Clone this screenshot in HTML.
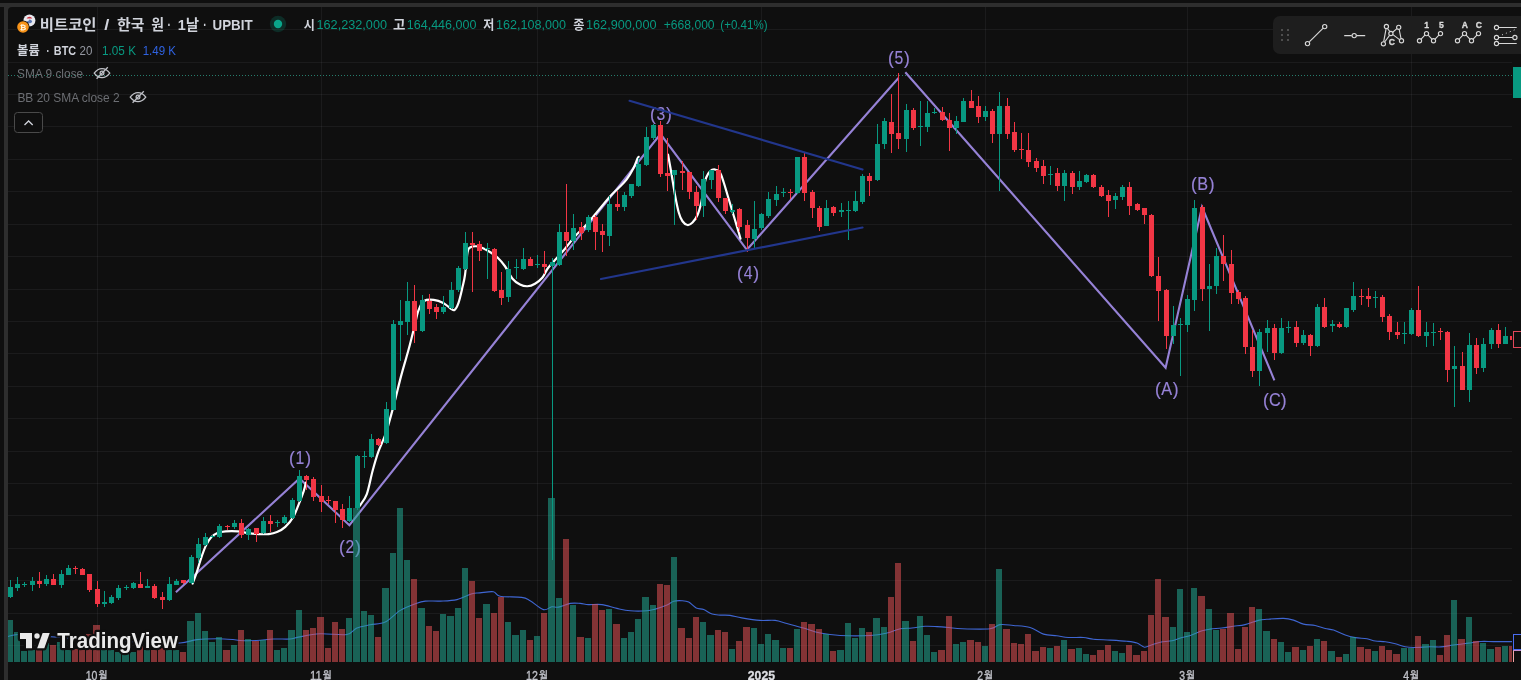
<!DOCTYPE html>
<html lang="ko"><head><meta charset="utf-8"><title>비트코인 / 한국 원</title>
<style>
html,body{margin:0;padding:0;background:#0f0f0f;}
body{width:1521px;height:680px;position:relative;overflow:hidden;font-family:"Liberation Sans","Noto Sans CJK KR",sans-serif;color:#d1d4dc;}
.abs{position:absolute;white-space:nowrap;line-height:1;}
</style></head><body>
<div class="abs" style="left:4px;top:3px;width:1530px;height:690px;background:#2e2e2e"></div>
<div class="abs" style="left:0;top:3px;width:4px;height:4px;background:#2e2e2e"></div>
<div class="abs" style="left:8px;top:7px;width:1530px;height:690px;background:#0f0f0f;border-top-left-radius:4px"></div>
<svg width="1521" height="680" viewBox="0 0 1521 680" style="position:absolute;left:0;top:0">
<defs><clipPath id="pane"><rect x="8" y="7" width="1504" height="673"/></clipPath></defs>
<g stroke="rgba(240,243,250,0.055)" stroke-width="1" shape-rendering="crispEdges">
<line x1="8" x2="1512" y1="29.5" y2="29.5"/>
<line x1="8" x2="1512" y1="62.5" y2="62.5"/>
<line x1="8" x2="1512" y1="94.5" y2="94.5"/>
<line x1="8" x2="1512" y1="126.5" y2="126.5"/>
<line x1="8" x2="1512" y1="159.5" y2="159.5"/>
<line x1="8" x2="1512" y1="191.5" y2="191.5"/>
<line x1="8" x2="1512" y1="224.5" y2="224.5"/>
<line x1="8" x2="1512" y1="256.5" y2="256.5"/>
<line x1="8" x2="1512" y1="289.5" y2="289.5"/>
<line x1="8" x2="1512" y1="321.5" y2="321.5"/>
<line x1="8" x2="1512" y1="353.5" y2="353.5"/>
<line x1="8" x2="1512" y1="386.5" y2="386.5"/>
<line x1="8" x2="1512" y1="418.5" y2="418.5"/>
<line x1="8" x2="1512" y1="451.5" y2="451.5"/>
<line x1="8" x2="1512" y1="483.5" y2="483.5"/>
<line x1="8" x2="1512" y1="515.5" y2="515.5"/>
<line x1="8" x2="1512" y1="548.5" y2="548.5"/>
<line x1="8" x2="1512" y1="580.5" y2="580.5"/>
<line x1="8" x2="1512" y1="613.5" y2="613.5"/>
<line x1="8" x2="1512" y1="645.5" y2="645.5"/>
<line x1="97.5" x2="97.5" y1="7" y2="662"/>
<line x1="321.5" x2="321.5" y1="7" y2="662"/>
<line x1="537.5" x2="537.5" y1="7" y2="662"/>
<line x1="761.5" x2="761.5" y1="7" y2="662"/>
<line x1="985.5" x2="985.5" y1="7" y2="662"/>
<line x1="1187.5" x2="1187.5" y1="7" y2="662"/>
<line x1="1411.5" x2="1411.5" y1="7" y2="662"/>
</g>
<line x1="8" x2="1512" y1="75.5" y2="75.5" stroke="#2fa38c" stroke-opacity="0.75" stroke-width="1" stroke-dasharray="1 2" shape-rendering="crispEdges"/>
<g clip-path="url(#pane)">
<polyline points="175.9,592.2 299.5,478.5 349.4,525.2 660.5,134 746.9,249.8 898.5,78" fill="none" stroke="#9682d6" stroke-width="2.1" stroke-linejoin="miter" stroke-miterlimit="10" stroke-linecap="butt"/>
<polyline points="905.3,72.2 1165.6,367.8 1202,207 1274.4,380.3" fill="none" stroke="#9682d6" stroke-width="2.1" stroke-linejoin="miter" stroke-miterlimit="10" stroke-linecap="butt"/>
<g font-family="Liberation Sans, sans-serif" font-size="17.5" fill="#9682d6" stroke="#9682d6" stroke-width="0.15"><text x="289" y="464.1">(</text><text transform="translate(300 464.1) scale(0.9 1)" text-anchor="middle">1</text><text x="311" y="464.1" text-anchor="end">)</text></g>
<g font-family="Liberation Sans, sans-serif" font-size="17.5" fill="#9682d6" stroke="#9682d6" stroke-width="0.15"><text x="338.9" y="553">(</text><text transform="translate(349.9 553) scale(0.9 1)" text-anchor="middle">2</text><text x="360.9" y="553" text-anchor="end">)</text></g>
<g font-family="Liberation Sans, sans-serif" font-size="17.5" fill="#9682d6" stroke="#9682d6" stroke-width="0.15"><text x="649.9" y="120">(</text><text transform="translate(660.9 120) scale(0.9 1)" text-anchor="middle">3</text><text x="671.9" y="120" text-anchor="end">)</text></g>
<g font-family="Liberation Sans, sans-serif" font-size="17.5" fill="#9682d6" stroke="#9682d6" stroke-width="0.15"><text x="737.1" y="279.1">(</text><text transform="translate(748.1 279.1) scale(0.9 1)" text-anchor="middle">4</text><text x="759.1" y="279.1" text-anchor="end">)</text></g>
<g font-family="Liberation Sans, sans-serif" font-size="17.5" fill="#9682d6" stroke="#9682d6" stroke-width="0.15"><text x="887.9" y="64">(</text><text transform="translate(898.9 64) scale(0.9 1)" text-anchor="middle">5</text><text x="909.9" y="64" text-anchor="end">)</text></g>
<g font-family="Liberation Sans, sans-serif" font-size="17.5" fill="#9682d6" stroke="#9682d6" stroke-width="0.15"><text x="1154.9" y="395.1">(</text><text transform="translate(1166.7 395.1) scale(0.93 1)" text-anchor="middle">A</text><text x="1178.5" y="395.1" text-anchor="end">)</text></g>
<g font-family="Liberation Sans, sans-serif" font-size="17.5" fill="#9682d6" stroke="#9682d6" stroke-width="0.15"><text x="1190.9" y="189.6">(</text><text transform="translate(1202.7 189.6) scale(0.93 1)" text-anchor="middle">B</text><text x="1214.5" y="189.6" text-anchor="end">)</text></g>
<g font-family="Liberation Sans, sans-serif" font-size="17.5" fill="#9682d6" stroke="#9682d6" stroke-width="0.15"><text x="1263.1" y="406">(</text><text transform="translate(1274.9 406) scale(0.93 1)" text-anchor="middle">C</text><text x="1286.7" y="406" text-anchor="end">)</text></g>
<path d="M192.6 583.5C193.3 581.62 195.42 576.32 196.8 572.2C198.18 568.08 199.37 563.27 200.9 558.8C202.43 554.33 204.28 549 206 545.4C207.72 541.8 209.3 539.25 211.2 537.2C213.1 535.15 215 534.07 217.4 533.1C219.8 532.13 222.17 531.68 225.6 531.4C229.03 531.12 234.23 531.12 238 531.4C241.77 531.68 244.78 532.65 248.2 533.1C251.62 533.55 255.07 533.93 258.5 534.1C261.93 534.27 265.72 534.43 268.8 534.1C271.88 533.77 274.25 533.3 277 532.1C279.75 530.9 282.55 529.48 285.3 526.9C288.05 524.32 291.27 520.37 293.5 516.6C295.73 512.83 296.98 508.58 298.7 504.3C300.42 500.02 302.6 494.52 303.8 490.9C305 487.28 305.55 483.98 305.9 482.6" fill="none" stroke="#ffffff" stroke-width="2.2" stroke-linejoin="round" stroke-linecap="round"/>
<path d="M359.9 505.6C361.05 503.68 364.7 499.83 366.8 494.1C368.9 488.37 370.6 478.2 372.5 471.2C374.4 464.2 375.97 458.47 378.2 452.1C380.43 445.73 383.35 440.65 385.9 433C388.45 425.35 390.95 415.77 393.5 406.2C396.05 396.63 398.65 385.17 401.2 375.6C403.75 366.03 406.57 357.08 408.8 348.8C411.03 340.52 413 332.27 414.6 325.9C416.2 319.53 416.82 314.75 418.4 310.6C419.98 306.45 421.55 302.78 424.1 301C426.65 299.22 430.5 299.58 433.7 299.9C436.9 300.22 440.43 301.43 443.3 302.9C446.17 304.37 449 307.55 450.9 308.7C452.8 309.85 453.43 310.77 454.7 309.8C455.97 308.83 457.22 306.6 458.5 302.9C459.78 299.2 461.32 292.25 462.4 287.6C463.48 282.95 464.15 280.85 465 275C465.85 269.15 466.67 257.08 467.5 252.5C468.33 247.92 468.54 248.54 470 247.5C471.46 246.46 474.17 246.17 476.25 246.25C478.33 246.33 480.21 247.04 482.5 248C484.79 248.96 487.5 250.42 490 252C492.5 253.58 495 255.12 497.5 257.5C500 259.88 502.5 262.71 505 266.25C507.5 269.79 510 275.71 512.5 278.75C515 281.79 517.5 283.25 520 284.5C522.5 285.75 525 286.38 527.5 286.25C530 286.12 532.5 285.21 535 283.75C537.5 282.29 540.42 280 542.5 277.5C544.58 275 545.42 271.67 547.5 268.75C549.58 265.83 552.08 263.33 555 260C557.92 256.67 561.67 252.71 565 248.75C568.33 244.79 571.67 240 575 236.25C578.33 232.5 581.67 229.88 585 226.25C588.33 222.62 590.83 219.46 595 214.5C599.17 209.54 606.12 200.87 610 196.5C613.88 192.13 615.52 191.15 618.3 188.3C621.08 185.45 624.2 182.7 626.7 179.4C629.2 176.1 631.5 171.98 633.3 168.5C635.1 165.02 636.62 160.45 637.5 158.5C638.38 156.55 638.42 157.08 638.6 156.8" fill="none" stroke="#ffffff" stroke-width="2.2" stroke-linejoin="round" stroke-linecap="round"/>
<path d="M668 154.5C668.54 157.5 670.08 165.75 671.25 172.5C672.42 179.25 673.75 188.33 675 195C676.25 201.67 677.5 208.12 678.75 212.5C680 216.88 681.04 219.17 682.5 221.25C683.96 223.33 685.83 224.79 687.5 225C689.17 225.21 690.83 224.17 692.5 222.5C694.17 220.83 696.04 218.33 697.5 215C698.96 211.67 700.21 207.08 701.25 202.5C702.29 197.92 702.92 191.67 703.75 187.5C704.58 183.33 705.21 180.21 706.25 177.5C707.29 174.79 708.54 172.58 710 171.25C711.46 169.92 713.33 169.29 715 169.5C716.67 169.71 718.54 170.33 720 172.5C721.46 174.67 722.5 178.75 723.75 182.5C725 186.25 726.25 190.83 727.5 195C728.75 199.17 730 203.33 731.25 207.5C732.5 211.67 733.75 215.83 735 220C736.25 224.17 737.83 229.38 738.75 232.5C739.67 235.62 740.21 237.71 740.5 238.75" fill="none" stroke="#ffffff" stroke-width="2.2" stroke-linejoin="round" stroke-linecap="round"/>
<path d="M8 636.5C9.67 636.17 12.67 634.58 18 634.5C23.33 634.42 26.33 635.08 40 636C53.67 636.92 81.67 638.92 100 640C118.33 641.08 136.67 642 150 642.5C163.33 643 172.17 643.48 180 643C187.83 642.52 190.83 640.32 197 639.6C203.17 638.88 211 638.72 217 638.7C223 638.68 229.17 639.2 233 639.5C236.83 639.8 236.05 640.33 240 640.5C243.95 640.67 251.13 640.75 256.7 640.5C262.27 640.25 267.85 639.25 273.4 639C278.95 638.75 285.83 639.32 290 639C294.17 638.68 293.4 637.97 298.4 637.1C303.4 636.23 311.93 634.23 320 633.8C328.07 633.37 340.65 635.47 346.8 634.5C352.95 633.53 353 629.62 356.9 628C360.8 626.38 365.48 625.78 370.2 624.8C374.92 623.82 380.18 624.5 385.2 622.1C390.22 619.7 395.28 613.45 400.3 610.4C405.32 607.35 411.13 605.35 415.3 603.8C419.47 602.25 421.13 601.55 425.3 601.1C429.47 600.65 435.02 601.35 440.3 601.1C445.58 600.85 451.72 600.83 457 599.6C462.28 598.37 468.17 594.82 472 593.7C475.83 592.58 476.43 593.23 480 592.9C483.57 592.57 490.07 591.15 493.4 591.7C496.73 592.25 495.28 595.25 500 596.2C504.72 597.15 516.68 596.65 521.7 597.4C526.72 598.15 526.48 598.67 530.1 600.7C533.72 602.73 539.78 608.58 543.4 609.6C547.02 610.62 549.28 607.22 551.8 606.8C554.32 606.38 555.43 607.67 558.5 607.1C561.57 606.53 566.58 604.02 570.2 603.4C573.82 602.78 577.15 603.2 580.2 603.4C583.25 603.6 584.88 604.4 588.5 604.6C592.12 604.8 597.17 603.97 601.9 604.6C606.63 605.23 612.17 607.37 616.9 608.4C621.63 609.43 625.28 610.4 630.3 610.8C635.32 611.2 642.83 611.08 647 610.8C651.17 610.52 651.97 610.05 655.3 609.1C658.63 608.15 663.93 606.42 667 605.1C670.07 603.78 671.2 601.93 673.7 601.2C676.2 600.47 679.5 600.55 682 600.7C684.5 600.85 686.33 600.9 688.7 602.1C691.07 603.3 693.7 606.65 696.2 607.9C698.7 609.15 701.05 608.57 703.7 609.6C706.35 610.63 709.32 613.18 712.1 614.1C714.88 615.02 717.42 614.88 720.4 615.1C723.38 615.32 726.45 614.93 730 615.4C733.55 615.87 736.7 617.07 741.7 617.9C746.7 618.73 754.43 619.98 760 620.4C765.57 620.82 770.63 619.88 775.1 620.4C779.57 620.92 782.07 622.23 786.8 623.5C791.53 624.77 797.93 626.42 803.5 628C809.07 629.58 814.08 631.75 820.2 633C826.32 634.25 831.85 635.08 840.2 635.5C848.55 635.92 862.5 635.92 870.3 635.5C878.1 635.08 882 634.12 887 633C892 631.88 896.13 629.63 900.3 628.8C904.47 627.97 907.83 628.42 912 628C916.17 627.58 921.13 626.53 925.3 626.3C929.47 626.07 933.1 626.4 937 626.6C940.9 626.8 944.53 627.13 948.7 627.5C952.87 627.87 955.12 628.58 962 628.8C968.88 629.02 983.67 629.5 990 628.8C996.33 628.1 996.1 625.15 1000 624.6C1003.9 624.05 1008.38 625.02 1013.4 625.5C1018.42 625.98 1025.08 626.07 1030.1 627.5C1035.12 628.93 1039.05 632.72 1043.5 634.1C1047.95 635.48 1052.63 635.23 1056.8 635.8C1060.97 636.37 1064.05 637.22 1068.5 637.5C1072.95 637.78 1079.32 637.2 1083.5 637.5C1087.68 637.8 1089.13 638.87 1093.6 639.3C1098.07 639.73 1104.73 639.77 1110.3 640.1C1115.87 640.43 1122.55 640.82 1127 641.3C1131.45 641.78 1134.08 642.02 1137 643C1139.92 643.98 1142 646.92 1144.5 647.2C1147 647.48 1149.37 645.53 1152 644.7C1154.63 643.87 1156.97 642.85 1160.3 642.2C1163.63 641.55 1168.65 641.5 1172 640.8C1175.35 640.1 1177.33 638.88 1180.4 638C1183.47 637.12 1186.78 636.7 1190.4 635.5C1194.02 634.3 1198.83 631.87 1202.1 630.8C1205.37 629.73 1206.73 629.57 1210 629.1C1213.27 628.63 1217.8 628.47 1221.7 628C1225.6 627.53 1229.5 626.87 1233.4 626.3C1237.3 625.73 1240.93 625.58 1245.1 624.6C1249.27 623.62 1254.78 621.28 1258.4 620.4C1262.02 619.52 1262.62 619.63 1266.8 619.3C1270.98 618.97 1279.05 618.27 1283.5 618.4C1287.95 618.53 1290.17 619.15 1293.5 620.1C1296.83 621.05 1299.88 623.2 1303.5 624.1C1307.12 625 1311.58 624.77 1315.2 625.5C1318.82 626.23 1322.13 627.73 1325.2 628.5C1328.27 629.27 1330.27 629 1333.6 630.1C1336.93 631.2 1341.58 633.85 1345.2 635.1C1348.82 636.35 1351.67 636.98 1355.3 637.6C1358.93 638.22 1363.67 638.23 1367 638.8C1370.33 639.37 1372.25 640.52 1375.3 641C1378.35 641.48 1381.97 641.23 1385.3 641.7C1388.63 642.17 1391.97 642.95 1395.3 643.8C1398.63 644.65 1402.23 646.18 1405.3 646.8C1408.37 647.42 1409.52 647.5 1413.7 647.5C1417.88 647.5 1425.85 646.9 1430.4 646.8C1434.95 646.7 1437.15 647.2 1441 646.9C1444.85 646.6 1448.92 645.63 1453.5 645C1458.08 644.37 1463.92 643.68 1468.5 643.1C1473.08 642.52 1476.83 641.75 1481 641.5C1485.17 641.25 1488.29 641.58 1493.5 641.6C1498.71 641.62 1509.12 641.6 1512.25 641.6" fill="none" stroke="#3f66d2" stroke-width="1.1" stroke-linejoin="round" stroke-linecap="round"/>
<g shape-rendering="crispEdges">
<rect x="7" y="620" width="6" height="42" fill="rgba(35,168,146,0.55)"/>
<rect x="14" y="632" width="6" height="30" fill="rgba(35,168,146,0.55)"/>
<rect x="21" y="651" width="6" height="11" fill="rgba(35,168,146,0.55)"/>
<rect x="28" y="650" width="7" height="12" fill="rgba(35,168,146,0.55)"/>
<rect x="36" y="650" width="6" height="12" fill="rgba(228,82,86,0.55)"/>
<rect x="43" y="643" width="6" height="19" fill="rgba(35,168,146,0.55)"/>
<rect x="50" y="645" width="6" height="17" fill="rgba(228,82,86,0.55)"/>
<rect x="57" y="642" width="7" height="20" fill="rgba(35,168,146,0.55)"/>
<rect x="65" y="650" width="6" height="12" fill="rgba(35,168,146,0.55)"/>
<rect x="72" y="649" width="6" height="13" fill="rgba(228,82,86,0.55)"/>
<rect x="79" y="650" width="6" height="12" fill="rgba(228,82,86,0.55)"/>
<rect x="86" y="634" width="6" height="28" fill="rgba(228,82,86,0.55)"/>
<rect x="93" y="625" width="7" height="37" fill="rgba(228,82,86,0.55)"/>
<rect x="101" y="650" width="6" height="12" fill="rgba(35,168,146,0.55)"/>
<rect x="108" y="650" width="6" height="12" fill="rgba(35,168,146,0.55)"/>
<rect x="115" y="652" width="6" height="10" fill="rgba(35,168,146,0.55)"/>
<rect x="122" y="654" width="7" height="8" fill="rgba(35,168,146,0.55)"/>
<rect x="130" y="652" width="6" height="10" fill="rgba(35,168,146,0.55)"/>
<rect x="137" y="646" width="6" height="16" fill="rgba(228,82,86,0.55)"/>
<rect x="144" y="650" width="6" height="12" fill="rgba(35,168,146,0.55)"/>
<rect x="151" y="650" width="6" height="12" fill="rgba(228,82,86,0.55)"/>
<rect x="158" y="648" width="7" height="14" fill="rgba(228,82,86,0.55)"/>
<rect x="166" y="650" width="6" height="12" fill="rgba(35,168,146,0.55)"/>
<rect x="173" y="650" width="6" height="12" fill="rgba(35,168,146,0.55)"/>
<rect x="180" y="652" width="6" height="10" fill="rgba(228,82,86,0.55)"/>
<rect x="187" y="621" width="7" height="41" fill="rgba(35,168,146,0.55)"/>
<rect x="195" y="613" width="6" height="49" fill="rgba(35,168,146,0.55)"/>
<rect x="202" y="631" width="6" height="31" fill="rgba(35,168,146,0.55)"/>
<rect x="209" y="642" width="6" height="20" fill="rgba(35,168,146,0.55)"/>
<rect x="216" y="637" width="6" height="25" fill="rgba(35,168,146,0.55)"/>
<rect x="223" y="650" width="7" height="12" fill="rgba(228,82,86,0.55)"/>
<rect x="231" y="645" width="6" height="17" fill="rgba(35,168,146,0.55)"/>
<rect x="238" y="630" width="6" height="32" fill="rgba(228,82,86,0.55)"/>
<rect x="245" y="639" width="6" height="23" fill="rgba(35,168,146,0.55)"/>
<rect x="252" y="641" width="7" height="21" fill="rgba(228,82,86,0.55)"/>
<rect x="260" y="640" width="6" height="22" fill="rgba(35,168,146,0.55)"/>
<rect x="267" y="630" width="6" height="32" fill="rgba(228,82,86,0.55)"/>
<rect x="274" y="650" width="6" height="12" fill="rgba(35,168,146,0.55)"/>
<rect x="281" y="648" width="6" height="14" fill="rgba(35,168,146,0.55)"/>
<rect x="288" y="630" width="7" height="32" fill="rgba(35,168,146,0.55)"/>
<rect x="296" y="610" width="6" height="52" fill="rgba(35,168,146,0.55)"/>
<rect x="303" y="630" width="6" height="32" fill="rgba(228,82,86,0.55)"/>
<rect x="310" y="628" width="6" height="34" fill="rgba(228,82,86,0.55)"/>
<rect x="317" y="617" width="7" height="45" fill="rgba(228,82,86,0.55)"/>
<rect x="325" y="648" width="6" height="14" fill="rgba(228,82,86,0.55)"/>
<rect x="332" y="622" width="6" height="40" fill="rgba(228,82,86,0.55)"/>
<rect x="339" y="629" width="6" height="33" fill="rgba(228,82,86,0.55)"/>
<rect x="346" y="618" width="6" height="44" fill="rgba(35,168,146,0.55)"/>
<rect x="353" y="508" width="7" height="154" fill="rgba(35,168,146,0.55)"/>
<rect x="361" y="611" width="6" height="51" fill="rgba(35,168,146,0.55)"/>
<rect x="368" y="615" width="6" height="47" fill="rgba(35,168,146,0.55)"/>
<rect x="375" y="637" width="6" height="25" fill="rgba(228,82,86,0.55)"/>
<rect x="382" y="588" width="7" height="74" fill="rgba(35,168,146,0.55)"/>
<rect x="390" y="553" width="6" height="109" fill="rgba(35,168,146,0.55)"/>
<rect x="397" y="508" width="6" height="154" fill="rgba(35,168,146,0.55)"/>
<rect x="404" y="560" width="6" height="102" fill="rgba(35,168,146,0.55)"/>
<rect x="411" y="579" width="6" height="83" fill="rgba(228,82,86,0.55)"/>
<rect x="418" y="608" width="7" height="54" fill="rgba(35,168,146,0.55)"/>
<rect x="426" y="626" width="6" height="36" fill="rgba(228,82,86,0.55)"/>
<rect x="433" y="631" width="6" height="31" fill="rgba(228,82,86,0.55)"/>
<rect x="440" y="614" width="6" height="48" fill="rgba(35,168,146,0.55)"/>
<rect x="447" y="616" width="7" height="46" fill="rgba(35,168,146,0.55)"/>
<rect x="455" y="608" width="6" height="54" fill="rgba(35,168,146,0.55)"/>
<rect x="462" y="568" width="6" height="94" fill="rgba(35,168,146,0.55)"/>
<rect x="469" y="581" width="6" height="81" fill="rgba(228,82,86,0.55)"/>
<rect x="476" y="618" width="6" height="44" fill="rgba(228,82,86,0.55)"/>
<rect x="483" y="604" width="7" height="58" fill="rgba(35,168,146,0.55)"/>
<rect x="491" y="613" width="6" height="49" fill="rgba(228,82,86,0.55)"/>
<rect x="498" y="597" width="6" height="65" fill="rgba(228,82,86,0.55)"/>
<rect x="505" y="622" width="6" height="40" fill="rgba(35,168,146,0.55)"/>
<rect x="512" y="635" width="7" height="27" fill="rgba(35,168,146,0.55)"/>
<rect x="520" y="630" width="6" height="32" fill="rgba(35,168,146,0.55)"/>
<rect x="527" y="640" width="6" height="22" fill="rgba(228,82,86,0.55)"/>
<rect x="534" y="636" width="6" height="26" fill="rgba(35,168,146,0.55)"/>
<rect x="541" y="613" width="6" height="49" fill="rgba(228,82,86,0.55)"/>
<rect x="548" y="498" width="7" height="164" fill="rgba(35,168,146,0.55)"/>
<rect x="556" y="598" width="6" height="64" fill="rgba(35,168,146,0.55)"/>
<rect x="563" y="539" width="6" height="123" fill="rgba(228,82,86,0.55)"/>
<rect x="570" y="605" width="6" height="57" fill="rgba(35,168,146,0.55)"/>
<rect x="577" y="637" width="7" height="25" fill="rgba(228,82,86,0.55)"/>
<rect x="585" y="638" width="6" height="24" fill="rgba(35,168,146,0.55)"/>
<rect x="592" y="604" width="6" height="58" fill="rgba(228,82,86,0.55)"/>
<rect x="599" y="610" width="6" height="52" fill="rgba(228,82,86,0.55)"/>
<rect x="606" y="609" width="6" height="53" fill="rgba(35,168,146,0.55)"/>
<rect x="613" y="624" width="7" height="38" fill="rgba(228,82,86,0.55)"/>
<rect x="621" y="638" width="6" height="24" fill="rgba(35,168,146,0.55)"/>
<rect x="628" y="632" width="6" height="30" fill="rgba(35,168,146,0.55)"/>
<rect x="635" y="619" width="6" height="43" fill="rgba(35,168,146,0.55)"/>
<rect x="642" y="597" width="7" height="65" fill="rgba(35,168,146,0.55)"/>
<rect x="650" y="605" width="6" height="57" fill="rgba(35,168,146,0.55)"/>
<rect x="657" y="584" width="6" height="78" fill="rgba(228,82,86,0.55)"/>
<rect x="664" y="585" width="6" height="77" fill="rgba(228,82,86,0.55)"/>
<rect x="671" y="557" width="6" height="105" fill="rgba(35,168,146,0.55)"/>
<rect x="678" y="628" width="7" height="34" fill="rgba(228,82,86,0.55)"/>
<rect x="686" y="638" width="6" height="24" fill="rgba(228,82,86,0.55)"/>
<rect x="693" y="617" width="6" height="45" fill="rgba(228,82,86,0.55)"/>
<rect x="700" y="622" width="6" height="40" fill="rgba(35,168,146,0.55)"/>
<rect x="707" y="635" width="7" height="27" fill="rgba(35,168,146,0.55)"/>
<rect x="715" y="630" width="6" height="32" fill="rgba(228,82,86,0.55)"/>
<rect x="722" y="632" width="6" height="30" fill="rgba(228,82,86,0.55)"/>
<rect x="729" y="649" width="6" height="13" fill="rgba(35,168,146,0.55)"/>
<rect x="736" y="641" width="6" height="21" fill="rgba(228,82,86,0.55)"/>
<rect x="743" y="627" width="7" height="35" fill="rgba(228,82,86,0.55)"/>
<rect x="751" y="628" width="6" height="34" fill="rgba(35,168,146,0.55)"/>
<rect x="758" y="644" width="6" height="18" fill="rgba(35,168,146,0.55)"/>
<rect x="765" y="634" width="6" height="28" fill="rgba(35,168,146,0.55)"/>
<rect x="772" y="640" width="7" height="22" fill="rgba(35,168,146,0.55)"/>
<rect x="780" y="648" width="6" height="14" fill="rgba(35,168,146,0.55)"/>
<rect x="787" y="648" width="6" height="14" fill="rgba(228,82,86,0.55)"/>
<rect x="794" y="629" width="6" height="33" fill="rgba(35,168,146,0.55)"/>
<rect x="801" y="622" width="6" height="40" fill="rgba(228,82,86,0.55)"/>
<rect x="808" y="624" width="7" height="38" fill="rgba(228,82,86,0.55)"/>
<rect x="816" y="629" width="6" height="33" fill="rgba(228,82,86,0.55)"/>
<rect x="823" y="634" width="6" height="28" fill="rgba(35,168,146,0.55)"/>
<rect x="830" y="651" width="6" height="11" fill="rgba(228,82,86,0.55)"/>
<rect x="837" y="650" width="7" height="12" fill="rgba(35,168,146,0.55)"/>
<rect x="845" y="623" width="6" height="39" fill="rgba(35,168,146,0.55)"/>
<rect x="852" y="638" width="6" height="24" fill="rgba(35,168,146,0.55)"/>
<rect x="859" y="628" width="6" height="34" fill="rgba(35,168,146,0.55)"/>
<rect x="866" y="632" width="6" height="30" fill="rgba(228,82,86,0.55)"/>
<rect x="873" y="618" width="7" height="44" fill="rgba(35,168,146,0.55)"/>
<rect x="881" y="627" width="6" height="35" fill="rgba(35,168,146,0.55)"/>
<rect x="888" y="597" width="6" height="65" fill="rgba(228,82,86,0.55)"/>
<rect x="895" y="563" width="6" height="99" fill="rgba(228,82,86,0.55)"/>
<rect x="902" y="621" width="7" height="41" fill="rgba(35,168,146,0.55)"/>
<rect x="910" y="641" width="6" height="21" fill="rgba(228,82,86,0.55)"/>
<rect x="917" y="616" width="6" height="46" fill="rgba(35,168,146,0.55)"/>
<rect x="924" y="635" width="6" height="27" fill="rgba(35,168,146,0.55)"/>
<rect x="931" y="652" width="6" height="10" fill="rgba(35,168,146,0.55)"/>
<rect x="938" y="650" width="7" height="12" fill="rgba(228,82,86,0.55)"/>
<rect x="946" y="616" width="6" height="46" fill="rgba(228,82,86,0.55)"/>
<rect x="953" y="644" width="6" height="18" fill="rgba(35,168,146,0.55)"/>
<rect x="960" y="642" width="6" height="20" fill="rgba(35,168,146,0.55)"/>
<rect x="967" y="640" width="7" height="22" fill="rgba(228,82,86,0.55)"/>
<rect x="975" y="642" width="6" height="20" fill="rgba(228,82,86,0.55)"/>
<rect x="982" y="646" width="6" height="16" fill="rgba(35,168,146,0.55)"/>
<rect x="989" y="624" width="6" height="38" fill="rgba(228,82,86,0.55)"/>
<rect x="996" y="569" width="6" height="93" fill="rgba(35,168,146,0.55)"/>
<rect x="1003" y="629" width="7" height="33" fill="rgba(228,82,86,0.55)"/>
<rect x="1011" y="643" width="6" height="19" fill="rgba(228,82,86,0.55)"/>
<rect x="1018" y="644" width="6" height="18" fill="rgba(228,82,86,0.55)"/>
<rect x="1025" y="634" width="6" height="28" fill="rgba(228,82,86,0.55)"/>
<rect x="1032" y="651" width="7" height="11" fill="rgba(228,82,86,0.55)"/>
<rect x="1040" y="647" width="6" height="15" fill="rgba(228,82,86,0.55)"/>
<rect x="1047" y="648" width="6" height="14" fill="rgba(35,168,146,0.55)"/>
<rect x="1054" y="646" width="6" height="16" fill="rgba(228,82,86,0.55)"/>
<rect x="1061" y="640" width="6" height="22" fill="rgba(35,168,146,0.55)"/>
<rect x="1068" y="649" width="7" height="13" fill="rgba(228,82,86,0.55)"/>
<rect x="1076" y="648" width="6" height="14" fill="rgba(35,168,146,0.55)"/>
<rect x="1083" y="654" width="6" height="8" fill="rgba(35,168,146,0.55)"/>
<rect x="1090" y="655" width="6" height="7" fill="rgba(228,82,86,0.55)"/>
<rect x="1097" y="650" width="7" height="12" fill="rgba(228,82,86,0.55)"/>
<rect x="1105" y="645" width="6" height="17" fill="rgba(228,82,86,0.55)"/>
<rect x="1112" y="651" width="6" height="11" fill="rgba(35,168,146,0.55)"/>
<rect x="1119" y="653" width="6" height="9" fill="rgba(35,168,146,0.55)"/>
<rect x="1126" y="645" width="6" height="17" fill="rgba(228,82,86,0.55)"/>
<rect x="1133" y="655" width="7" height="7" fill="rgba(228,82,86,0.55)"/>
<rect x="1141" y="651" width="6" height="11" fill="rgba(228,82,86,0.55)"/>
<rect x="1148" y="615" width="6" height="47" fill="rgba(228,82,86,0.55)"/>
<rect x="1155" y="579" width="6" height="83" fill="rgba(228,82,86,0.55)"/>
<rect x="1162" y="617" width="7" height="45" fill="rgba(228,82,86,0.55)"/>
<rect x="1170" y="627" width="6" height="35" fill="rgba(35,168,146,0.55)"/>
<rect x="1177" y="589" width="6" height="73" fill="rgba(35,168,146,0.55)"/>
<rect x="1184" y="632" width="6" height="30" fill="rgba(35,168,146,0.55)"/>
<rect x="1191" y="588" width="6" height="74" fill="rgba(35,168,146,0.55)"/>
<rect x="1198" y="596" width="7" height="66" fill="rgba(228,82,86,0.55)"/>
<rect x="1206" y="609" width="6" height="53" fill="rgba(35,168,146,0.55)"/>
<rect x="1213" y="630" width="6" height="32" fill="rgba(35,168,146,0.55)"/>
<rect x="1220" y="629" width="6" height="33" fill="rgba(228,82,86,0.55)"/>
<rect x="1227" y="613" width="7" height="49" fill="rgba(228,82,86,0.55)"/>
<rect x="1235" y="649" width="6" height="13" fill="rgba(228,82,86,0.55)"/>
<rect x="1242" y="627" width="6" height="35" fill="rgba(228,82,86,0.55)"/>
<rect x="1249" y="607" width="6" height="55" fill="rgba(228,82,86,0.55)"/>
<rect x="1256" y="609" width="6" height="53" fill="rgba(35,168,146,0.55)"/>
<rect x="1263" y="631" width="7" height="31" fill="rgba(35,168,146,0.55)"/>
<rect x="1271" y="639" width="6" height="23" fill="rgba(228,82,86,0.55)"/>
<rect x="1278" y="642" width="6" height="20" fill="rgba(35,168,146,0.55)"/>
<rect x="1285" y="652" width="6" height="10" fill="rgba(35,168,146,0.55)"/>
<rect x="1292" y="647" width="7" height="15" fill="rgba(228,82,86,0.55)"/>
<rect x="1300" y="650" width="6" height="12" fill="rgba(35,168,146,0.55)"/>
<rect x="1307" y="646" width="6" height="16" fill="rgba(228,82,86,0.55)"/>
<rect x="1314" y="639" width="6" height="23" fill="rgba(35,168,146,0.55)"/>
<rect x="1321" y="641" width="6" height="21" fill="rgba(228,82,86,0.55)"/>
<rect x="1328" y="651" width="7" height="11" fill="rgba(35,168,146,0.55)"/>
<rect x="1336" y="657" width="6" height="5" fill="rgba(228,82,86,0.55)"/>
<rect x="1343" y="654" width="6" height="8" fill="rgba(35,168,146,0.55)"/>
<rect x="1350" y="637" width="6" height="25" fill="rgba(35,168,146,0.55)"/>
<rect x="1357" y="647" width="7" height="15" fill="rgba(228,82,86,0.55)"/>
<rect x="1365" y="649" width="6" height="13" fill="rgba(228,82,86,0.55)"/>
<rect x="1372" y="651" width="6" height="11" fill="rgba(35,168,146,0.55)"/>
<rect x="1379" y="646" width="6" height="16" fill="rgba(228,82,86,0.55)"/>
<rect x="1386" y="650" width="6" height="12" fill="rgba(228,82,86,0.55)"/>
<rect x="1393" y="654" width="7" height="8" fill="rgba(228,82,86,0.55)"/>
<rect x="1401" y="648" width="6" height="14" fill="rgba(35,168,146,0.55)"/>
<rect x="1408" y="648" width="6" height="14" fill="rgba(35,168,146,0.55)"/>
<rect x="1415" y="636" width="6" height="26" fill="rgba(228,82,86,0.55)"/>
<rect x="1422" y="644" width="7" height="18" fill="rgba(35,168,146,0.55)"/>
<rect x="1430" y="640" width="6" height="22" fill="rgba(35,168,146,0.55)"/>
<rect x="1437" y="655" width="6" height="7" fill="rgba(228,82,86,0.55)"/>
<rect x="1444" y="635" width="6" height="27" fill="rgba(228,82,86,0.55)"/>
<rect x="1451" y="600" width="6" height="62" fill="rgba(35,168,146,0.55)"/>
<rect x="1458" y="639" width="7" height="23" fill="rgba(228,82,86,0.55)"/>
<rect x="1466" y="617" width="6" height="45" fill="rgba(35,168,146,0.55)"/>
<rect x="1473" y="641" width="6" height="21" fill="rgba(228,82,86,0.55)"/>
<rect x="1480" y="643" width="6" height="19" fill="rgba(35,168,146,0.55)"/>
<rect x="1487" y="649" width="7" height="13" fill="rgba(35,168,146,0.55)"/>
<rect x="1495" y="647" width="6" height="15" fill="rgba(228,82,86,0.55)"/>
<rect x="1502" y="646" width="6" height="16" fill="rgba(35,168,146,0.55)"/>
<rect x="1509" y="646" width="6" height="16" fill="rgba(228,82,86,0.55)"/>
</g>
<rect x="10" y="580" width="1" height="18" fill="#089981"/>
<rect x="8" y="587" width="5" height="10" fill="#089981"/>
<rect x="17" y="577" width="1" height="14" fill="#089981"/>
<rect x="15" y="584" width="5" height="4" fill="#089981"/>
<rect x="24" y="582" width="1" height="5" fill="#089981"/>
<rect x="22" y="584" width="5" height="1" fill="#089981"/>
<rect x="32" y="577" width="1" height="14" fill="#089981"/>
<rect x="30" y="581" width="5" height="4" fill="#089981"/>
<rect x="39" y="572" width="1" height="16" fill="#f23645"/>
<rect x="37" y="581" width="5" height="3" fill="#f23645"/>
<rect x="46" y="575" width="1" height="11" fill="#089981"/>
<rect x="44" y="579" width="5" height="5" fill="#089981"/>
<rect x="53" y="574" width="1" height="11" fill="#f23645"/>
<rect x="51" y="579" width="5" height="6" fill="#f23645"/>
<rect x="61" y="570" width="1" height="18" fill="#089981"/>
<rect x="59" y="574" width="5" height="11" fill="#089981"/>
<rect x="68" y="565" width="1" height="10" fill="#089981"/>
<rect x="66" y="568" width="5" height="7" fill="#089981"/>
<rect x="75" y="566" width="1" height="8" fill="#f23645"/>
<rect x="73" y="568" width="5" height="1" fill="#f23645"/>
<rect x="82" y="568" width="1" height="7" fill="#f23645"/>
<rect x="80" y="569" width="5" height="6" fill="#f23645"/>
<rect x="89" y="574" width="1" height="18" fill="#f23645"/>
<rect x="87" y="574" width="5" height="16" fill="#f23645"/>
<rect x="97" y="581" width="1" height="26" fill="#f23645"/>
<rect x="95" y="589" width="5" height="15" fill="#f23645"/>
<rect x="104" y="591" width="1" height="16" fill="#089981"/>
<rect x="102" y="602" width="5" height="2" fill="#089981"/>
<rect x="111" y="595" width="1" height="9" fill="#089981"/>
<rect x="109" y="597" width="5" height="6" fill="#089981"/>
<rect x="118" y="585" width="1" height="15" fill="#089981"/>
<rect x="116" y="588" width="5" height="10" fill="#089981"/>
<rect x="126" y="585" width="1" height="5" fill="#089981"/>
<rect x="124" y="587" width="5" height="1" fill="#089981"/>
<rect x="133" y="582" width="1" height="7" fill="#089981"/>
<rect x="131" y="583" width="5" height="5" fill="#089981"/>
<rect x="140" y="572" width="1" height="16" fill="#f23645"/>
<rect x="138" y="584" width="5" height="4" fill="#f23645"/>
<rect x="147" y="579" width="1" height="9" fill="#089981"/>
<rect x="145" y="586" width="5" height="2" fill="#089981"/>
<rect x="154" y="584" width="1" height="15" fill="#f23645"/>
<rect x="152" y="586" width="5" height="12" fill="#f23645"/>
<rect x="162" y="592" width="1" height="17" fill="#f23645"/>
<rect x="160" y="597" width="5" height="3" fill="#f23645"/>
<rect x="169" y="577" width="1" height="24" fill="#089981"/>
<rect x="167" y="584" width="5" height="16" fill="#089981"/>
<rect x="176" y="579" width="1" height="6" fill="#089981"/>
<rect x="174" y="581" width="5" height="4" fill="#089981"/>
<rect x="183" y="580" width="1" height="4" fill="#f23645"/>
<rect x="181" y="580" width="5" height="3" fill="#f23645"/>
<rect x="191" y="555" width="1" height="29" fill="#089981"/>
<rect x="189" y="557" width="5" height="26" fill="#089981"/>
<rect x="198" y="538" width="1" height="25" fill="#089981"/>
<rect x="196" y="544" width="5" height="14" fill="#089981"/>
<rect x="205" y="533" width="1" height="13" fill="#089981"/>
<rect x="203" y="537" width="5" height="8" fill="#089981"/>
<rect x="212" y="535" width="1" height="3" fill="#089981"/>
<rect x="210" y="536" width="5" height="1" fill="#089981"/>
<rect x="219" y="524" width="1" height="14" fill="#089981"/>
<rect x="217" y="526" width="5" height="11" fill="#089981"/>
<rect x="227" y="525" width="1" height="5" fill="#f23645"/>
<rect x="225" y="526" width="5" height="1" fill="#f23645"/>
<rect x="234" y="520" width="1" height="9" fill="#089981"/>
<rect x="232" y="523" width="5" height="4" fill="#089981"/>
<rect x="241" y="519" width="1" height="19" fill="#f23645"/>
<rect x="239" y="523" width="5" height="12" fill="#f23645"/>
<rect x="248" y="528" width="1" height="12" fill="#089981"/>
<rect x="246" y="529" width="5" height="6" fill="#089981"/>
<rect x="256" y="528" width="1" height="14" fill="#f23645"/>
<rect x="254" y="528" width="5" height="6" fill="#f23645"/>
<rect x="263" y="517" width="1" height="17" fill="#089981"/>
<rect x="261" y="521" width="5" height="12" fill="#089981"/>
<rect x="270" y="515" width="1" height="17" fill="#f23645"/>
<rect x="268" y="521" width="5" height="3" fill="#f23645"/>
<rect x="277" y="520" width="1" height="7" fill="#089981"/>
<rect x="275" y="522" width="5" height="1" fill="#089981"/>
<rect x="284" y="515" width="1" height="9" fill="#089981"/>
<rect x="282" y="517" width="5" height="6" fill="#089981"/>
<rect x="292" y="498" width="1" height="21" fill="#089981"/>
<rect x="290" y="500" width="5" height="18" fill="#089981"/>
<rect x="299" y="470" width="1" height="32" fill="#089981"/>
<rect x="297" y="476" width="5" height="25" fill="#089981"/>
<rect x="306" y="475" width="1" height="15" fill="#f23645"/>
<rect x="304" y="476" width="5" height="4" fill="#f23645"/>
<rect x="313" y="477" width="1" height="24" fill="#f23645"/>
<rect x="311" y="479" width="5" height="18" fill="#f23645"/>
<rect x="321" y="485" width="1" height="27" fill="#f23645"/>
<rect x="319" y="496" width="5" height="6" fill="#f23645"/>
<rect x="328" y="496" width="1" height="8" fill="#f23645"/>
<rect x="326" y="500" width="5" height="1" fill="#f23645"/>
<rect x="335" y="501" width="1" height="22" fill="#f23645"/>
<rect x="333" y="501" width="5" height="9" fill="#f23645"/>
<rect x="342" y="504" width="1" height="24" fill="#f23645"/>
<rect x="340" y="509" width="5" height="11" fill="#f23645"/>
<rect x="349" y="496" width="1" height="26" fill="#089981"/>
<rect x="347" y="508" width="5" height="13" fill="#089981"/>
<rect x="357" y="455" width="1" height="55" fill="#089981"/>
<rect x="355" y="456" width="5" height="52" fill="#089981"/>
<rect x="364" y="451" width="1" height="17" fill="#089981"/>
<rect x="362" y="456" width="5" height="1" fill="#089981"/>
<rect x="371" y="434" width="1" height="24" fill="#089981"/>
<rect x="369" y="439" width="5" height="18" fill="#089981"/>
<rect x="378" y="438" width="1" height="8" fill="#f23645"/>
<rect x="376" y="439" width="5" height="6" fill="#f23645"/>
<rect x="386" y="402" width="1" height="42" fill="#089981"/>
<rect x="384" y="409" width="5" height="34" fill="#089981"/>
<rect x="393" y="320" width="1" height="90" fill="#089981"/>
<rect x="391" y="324" width="5" height="86" fill="#089981"/>
<rect x="400" y="300" width="1" height="61" fill="#089981"/>
<rect x="398" y="321" width="5" height="4" fill="#089981"/>
<rect x="407" y="282" width="1" height="53" fill="#089981"/>
<rect x="405" y="301" width="5" height="21" fill="#089981"/>
<rect x="414" y="285" width="1" height="58" fill="#f23645"/>
<rect x="412" y="301" width="5" height="30" fill="#f23645"/>
<rect x="422" y="295" width="1" height="37" fill="#089981"/>
<rect x="420" y="300" width="5" height="31" fill="#089981"/>
<rect x="429" y="294" width="1" height="20" fill="#f23645"/>
<rect x="427" y="301" width="5" height="8" fill="#f23645"/>
<rect x="436" y="304" width="1" height="15" fill="#f23645"/>
<rect x="434" y="307" width="5" height="5" fill="#f23645"/>
<rect x="443" y="296" width="1" height="18" fill="#089981"/>
<rect x="441" y="307" width="5" height="5" fill="#089981"/>
<rect x="451" y="282" width="1" height="27" fill="#089981"/>
<rect x="449" y="290" width="5" height="18" fill="#089981"/>
<rect x="458" y="266" width="1" height="26" fill="#089981"/>
<rect x="456" y="268" width="5" height="22" fill="#089981"/>
<rect x="465" y="232" width="1" height="38" fill="#089981"/>
<rect x="463" y="243" width="5" height="26" fill="#089981"/>
<rect x="472" y="232" width="1" height="60" fill="#f23645"/>
<rect x="470" y="243" width="5" height="2" fill="#f23645"/>
<rect x="479" y="241" width="1" height="20" fill="#f23645"/>
<rect x="477" y="244" width="5" height="7" fill="#f23645"/>
<rect x="487" y="243" width="1" height="36" fill="#089981"/>
<rect x="485" y="248" width="5" height="1" fill="#089981"/>
<rect x="494" y="248" width="1" height="44" fill="#f23645"/>
<rect x="492" y="249" width="5" height="42" fill="#f23645"/>
<rect x="501" y="272" width="1" height="33" fill="#f23645"/>
<rect x="499" y="290" width="5" height="8" fill="#f23645"/>
<rect x="508" y="261" width="1" height="41" fill="#089981"/>
<rect x="506" y="269" width="5" height="28" fill="#089981"/>
<rect x="516" y="259" width="1" height="20" fill="#089981"/>
<rect x="514" y="267" width="5" height="1" fill="#089981"/>
<rect x="523" y="248" width="1" height="22" fill="#089981"/>
<rect x="521" y="259" width="5" height="10" fill="#089981"/>
<rect x="530" y="257" width="1" height="9" fill="#f23645"/>
<rect x="528" y="259" width="5" height="7" fill="#f23645"/>
<rect x="537" y="255" width="1" height="13" fill="#089981"/>
<rect x="535" y="264" width="5" height="1" fill="#089981"/>
<rect x="544" y="251" width="1" height="23" fill="#f23645"/>
<rect x="542" y="264" width="5" height="3" fill="#f23645"/>
<rect x="552" y="258" width="1" height="302" fill="#089981"/>
<rect x="550" y="262" width="5" height="4" fill="#089981"/>
<rect x="559" y="224" width="1" height="42" fill="#089981"/>
<rect x="557" y="232" width="5" height="33" fill="#089981"/>
<rect x="566" y="184" width="1" height="72" fill="#f23645"/>
<rect x="564" y="232" width="5" height="9" fill="#f23645"/>
<rect x="573" y="214" width="1" height="36" fill="#089981"/>
<rect x="571" y="228" width="5" height="13" fill="#089981"/>
<rect x="581" y="222" width="1" height="18" fill="#f23645"/>
<rect x="579" y="227" width="5" height="6" fill="#f23645"/>
<rect x="588" y="215" width="1" height="17" fill="#089981"/>
<rect x="586" y="217" width="5" height="13" fill="#089981"/>
<rect x="595" y="215" width="1" height="35" fill="#f23645"/>
<rect x="593" y="217" width="5" height="15" fill="#f23645"/>
<rect x="602" y="224" width="1" height="28" fill="#f23645"/>
<rect x="600" y="231" width="5" height="4" fill="#f23645"/>
<rect x="609" y="196" width="1" height="50" fill="#089981"/>
<rect x="607" y="204" width="5" height="32" fill="#089981"/>
<rect x="617" y="191" width="1" height="20" fill="#f23645"/>
<rect x="615" y="204" width="5" height="3" fill="#f23645"/>
<rect x="624" y="192" width="1" height="19" fill="#089981"/>
<rect x="622" y="195" width="5" height="12" fill="#089981"/>
<rect x="631" y="184" width="1" height="14" fill="#089981"/>
<rect x="629" y="184" width="5" height="12" fill="#089981"/>
<rect x="638" y="158" width="1" height="29" fill="#089981"/>
<rect x="636" y="164" width="5" height="22" fill="#089981"/>
<rect x="646" y="127" width="1" height="39" fill="#089981"/>
<rect x="644" y="137" width="5" height="28" fill="#089981"/>
<rect x="653" y="124" width="1" height="16" fill="#089981"/>
<rect x="651" y="125" width="5" height="13" fill="#089981"/>
<rect x="660" y="121" width="1" height="56" fill="#f23645"/>
<rect x="658" y="125" width="5" height="49" fill="#f23645"/>
<rect x="667" y="138" width="1" height="53" fill="#f23645"/>
<rect x="665" y="173" width="5" height="3" fill="#f23645"/>
<rect x="674" y="170" width="1" height="55" fill="#089981"/>
<rect x="672" y="170" width="5" height="5" fill="#089981"/>
<rect x="682" y="161" width="1" height="29" fill="#f23645"/>
<rect x="680" y="171" width="5" height="2" fill="#f23645"/>
<rect x="689" y="172" width="1" height="27" fill="#f23645"/>
<rect x="687" y="172" width="5" height="20" fill="#f23645"/>
<rect x="696" y="186" width="1" height="34" fill="#f23645"/>
<rect x="694" y="192" width="5" height="14" fill="#f23645"/>
<rect x="703" y="171" width="1" height="46" fill="#089981"/>
<rect x="701" y="179" width="5" height="27" fill="#089981"/>
<rect x="711" y="170" width="1" height="19" fill="#089981"/>
<rect x="709" y="170" width="5" height="10" fill="#089981"/>
<rect x="718" y="165" width="1" height="37" fill="#f23645"/>
<rect x="716" y="170" width="5" height="28" fill="#f23645"/>
<rect x="725" y="198" width="1" height="16" fill="#f23645"/>
<rect x="723" y="198" width="5" height="13" fill="#f23645"/>
<rect x="732" y="204" width="1" height="10" fill="#089981"/>
<rect x="730" y="210" width="5" height="2" fill="#089981"/>
<rect x="739" y="208" width="1" height="24" fill="#f23645"/>
<rect x="737" y="209" width="5" height="18" fill="#f23645"/>
<rect x="747" y="220" width="1" height="32" fill="#f23645"/>
<rect x="745" y="225" width="5" height="13" fill="#f23645"/>
<rect x="754" y="201" width="1" height="48" fill="#089981"/>
<rect x="752" y="229" width="5" height="10" fill="#089981"/>
<rect x="761" y="213" width="1" height="17" fill="#089981"/>
<rect x="759" y="214" width="5" height="14" fill="#089981"/>
<rect x="768" y="192" width="1" height="26" fill="#089981"/>
<rect x="766" y="199" width="5" height="17" fill="#089981"/>
<rect x="776" y="186" width="1" height="20" fill="#089981"/>
<rect x="774" y="194" width="5" height="6" fill="#089981"/>
<rect x="783" y="188" width="1" height="9" fill="#089981"/>
<rect x="781" y="192" width="5" height="1" fill="#089981"/>
<rect x="790" y="189" width="1" height="10" fill="#f23645"/>
<rect x="788" y="192" width="5" height="1" fill="#f23645"/>
<rect x="797" y="157" width="1" height="37" fill="#089981"/>
<rect x="795" y="157" width="5" height="36" fill="#089981"/>
<rect x="804" y="152" width="1" height="49" fill="#f23645"/>
<rect x="802" y="157" width="5" height="36" fill="#f23645"/>
<rect x="812" y="190" width="1" height="28" fill="#f23645"/>
<rect x="810" y="192" width="5" height="16" fill="#f23645"/>
<rect x="819" y="206" width="1" height="25" fill="#f23645"/>
<rect x="817" y="208" width="5" height="19" fill="#f23645"/>
<rect x="826" y="200" width="1" height="26" fill="#089981"/>
<rect x="824" y="208" width="5" height="18" fill="#089981"/>
<rect x="833" y="206" width="1" height="10" fill="#f23645"/>
<rect x="831" y="207" width="5" height="6" fill="#f23645"/>
<rect x="841" y="203" width="1" height="14" fill="#089981"/>
<rect x="839" y="210" width="5" height="2" fill="#089981"/>
<rect x="848" y="201" width="1" height="39" fill="#089981"/>
<rect x="846" y="210" width="5" height="1" fill="#089981"/>
<rect x="855" y="191" width="1" height="21" fill="#089981"/>
<rect x="853" y="201" width="5" height="10" fill="#089981"/>
<rect x="862" y="174" width="1" height="30" fill="#089981"/>
<rect x="860" y="176" width="5" height="26" fill="#089981"/>
<rect x="869" y="173" width="1" height="23" fill="#f23645"/>
<rect x="867" y="176" width="5" height="5" fill="#f23645"/>
<rect x="877" y="124" width="1" height="57" fill="#089981"/>
<rect x="875" y="144" width="5" height="36" fill="#089981"/>
<rect x="884" y="118" width="1" height="31" fill="#089981"/>
<rect x="882" y="121" width="5" height="23" fill="#089981"/>
<rect x="891" y="94" width="1" height="59" fill="#f23645"/>
<rect x="889" y="122" width="5" height="12" fill="#f23645"/>
<rect x="898" y="73" width="1" height="76" fill="#f23645"/>
<rect x="896" y="133" width="5" height="6" fill="#f23645"/>
<rect x="906" y="104" width="1" height="48" fill="#089981"/>
<rect x="904" y="110" width="5" height="29" fill="#089981"/>
<rect x="913" y="108" width="1" height="22" fill="#f23645"/>
<rect x="911" y="110" width="5" height="18" fill="#f23645"/>
<rect x="920" y="101" width="1" height="45" fill="#089981"/>
<rect x="918" y="126" width="5" height="1" fill="#089981"/>
<rect x="927" y="101" width="1" height="31" fill="#089981"/>
<rect x="925" y="113" width="5" height="14" fill="#089981"/>
<rect x="934" y="108" width="1" height="6" fill="#089981"/>
<rect x="932" y="112" width="5" height="1" fill="#089981"/>
<rect x="942" y="107" width="1" height="14" fill="#f23645"/>
<rect x="940" y="112" width="5" height="8" fill="#f23645"/>
<rect x="949" y="113" width="1" height="38" fill="#f23645"/>
<rect x="947" y="120" width="5" height="8" fill="#f23645"/>
<rect x="956" y="116" width="1" height="18" fill="#089981"/>
<rect x="954" y="121" width="5" height="7" fill="#089981"/>
<rect x="963" y="98" width="1" height="24" fill="#089981"/>
<rect x="961" y="101" width="5" height="21" fill="#089981"/>
<rect x="971" y="90" width="1" height="18" fill="#f23645"/>
<rect x="969" y="101" width="5" height="7" fill="#f23645"/>
<rect x="978" y="96" width="1" height="27" fill="#f23645"/>
<rect x="976" y="106" width="5" height="11" fill="#f23645"/>
<rect x="985" y="106" width="1" height="15" fill="#089981"/>
<rect x="983" y="111" width="5" height="6" fill="#089981"/>
<rect x="992" y="109" width="1" height="34" fill="#f23645"/>
<rect x="990" y="111" width="5" height="23" fill="#f23645"/>
<rect x="999" y="92" width="1" height="99" fill="#089981"/>
<rect x="997" y="106" width="5" height="28" fill="#089981"/>
<rect x="1007" y="98" width="1" height="41" fill="#f23645"/>
<rect x="1005" y="106" width="5" height="28" fill="#f23645"/>
<rect x="1014" y="122" width="1" height="30" fill="#f23645"/>
<rect x="1012" y="132" width="5" height="18" fill="#f23645"/>
<rect x="1021" y="133" width="1" height="26" fill="#f23645"/>
<rect x="1019" y="149" width="5" height="1" fill="#f23645"/>
<rect x="1028" y="133" width="1" height="34" fill="#f23645"/>
<rect x="1026" y="150" width="5" height="12" fill="#f23645"/>
<rect x="1036" y="158" width="1" height="14" fill="#f23645"/>
<rect x="1034" y="161" width="5" height="7" fill="#f23645"/>
<rect x="1043" y="160" width="1" height="24" fill="#f23645"/>
<rect x="1041" y="166" width="5" height="10" fill="#f23645"/>
<rect x="1050" y="166" width="1" height="19" fill="#089981"/>
<rect x="1048" y="174" width="5" height="1" fill="#089981"/>
<rect x="1057" y="168" width="1" height="23" fill="#f23645"/>
<rect x="1055" y="173" width="5" height="13" fill="#f23645"/>
<rect x="1064" y="170" width="1" height="31" fill="#089981"/>
<rect x="1062" y="173" width="5" height="13" fill="#089981"/>
<rect x="1072" y="171" width="1" height="23" fill="#f23645"/>
<rect x="1070" y="173" width="5" height="14" fill="#f23645"/>
<rect x="1079" y="171" width="1" height="19" fill="#089981"/>
<rect x="1077" y="181" width="5" height="6" fill="#089981"/>
<rect x="1086" y="174" width="1" height="9" fill="#089981"/>
<rect x="1084" y="175" width="5" height="7" fill="#089981"/>
<rect x="1093" y="174" width="1" height="14" fill="#f23645"/>
<rect x="1091" y="175" width="5" height="12" fill="#f23645"/>
<rect x="1101" y="185" width="1" height="12" fill="#f23645"/>
<rect x="1099" y="187" width="5" height="9" fill="#f23645"/>
<rect x="1108" y="190" width="1" height="27" fill="#f23645"/>
<rect x="1106" y="195" width="5" height="6" fill="#f23645"/>
<rect x="1115" y="193" width="1" height="16" fill="#089981"/>
<rect x="1113" y="196" width="5" height="4" fill="#089981"/>
<rect x="1122" y="185" width="1" height="15" fill="#089981"/>
<rect x="1120" y="187" width="5" height="10" fill="#089981"/>
<rect x="1129" y="182" width="1" height="33" fill="#f23645"/>
<rect x="1127" y="187" width="5" height="19" fill="#f23645"/>
<rect x="1137" y="203" width="1" height="8" fill="#f23645"/>
<rect x="1135" y="204" width="5" height="6" fill="#f23645"/>
<rect x="1144" y="208" width="1" height="16" fill="#f23645"/>
<rect x="1142" y="208" width="5" height="7" fill="#f23645"/>
<rect x="1151" y="214" width="1" height="63" fill="#f23645"/>
<rect x="1149" y="215" width="5" height="61" fill="#f23645"/>
<rect x="1158" y="257" width="1" height="64" fill="#f23645"/>
<rect x="1156" y="276" width="5" height="15" fill="#f23645"/>
<rect x="1166" y="289" width="1" height="60" fill="#f23645"/>
<rect x="1164" y="290" width="5" height="46" fill="#f23645"/>
<rect x="1173" y="306" width="1" height="38" fill="#089981"/>
<rect x="1171" y="325" width="5" height="11" fill="#089981"/>
<rect x="1180" y="318" width="1" height="58" fill="#089981"/>
<rect x="1178" y="324" width="5" height="1" fill="#089981"/>
<rect x="1187" y="295" width="1" height="37" fill="#089981"/>
<rect x="1185" y="299" width="5" height="26" fill="#089981"/>
<rect x="1194" y="200" width="1" height="111" fill="#089981"/>
<rect x="1192" y="208" width="5" height="92" fill="#089981"/>
<rect x="1202" y="205" width="1" height="96" fill="#f23645"/>
<rect x="1200" y="207" width="5" height="82" fill="#f23645"/>
<rect x="1209" y="264" width="1" height="67" fill="#089981"/>
<rect x="1207" y="286" width="5" height="3" fill="#089981"/>
<rect x="1216" y="248" width="1" height="46" fill="#089981"/>
<rect x="1214" y="256" width="5" height="30" fill="#089981"/>
<rect x="1223" y="235" width="1" height="46" fill="#f23645"/>
<rect x="1221" y="256" width="5" height="8" fill="#f23645"/>
<rect x="1231" y="250" width="1" height="54" fill="#f23645"/>
<rect x="1229" y="264" width="5" height="29" fill="#f23645"/>
<rect x="1238" y="290" width="1" height="14" fill="#f23645"/>
<rect x="1236" y="292" width="5" height="7" fill="#f23645"/>
<rect x="1245" y="296" width="1" height="58" fill="#f23645"/>
<rect x="1243" y="298" width="5" height="49" fill="#f23645"/>
<rect x="1252" y="330" width="1" height="47" fill="#f23645"/>
<rect x="1250" y="347" width="5" height="24" fill="#f23645"/>
<rect x="1259" y="329" width="1" height="57" fill="#089981"/>
<rect x="1257" y="332" width="5" height="39" fill="#089981"/>
<rect x="1267" y="320" width="1" height="32" fill="#089981"/>
<rect x="1265" y="328" width="5" height="5" fill="#089981"/>
<rect x="1274" y="324" width="1" height="36" fill="#f23645"/>
<rect x="1272" y="328" width="5" height="25" fill="#f23645"/>
<rect x="1281" y="318" width="1" height="36" fill="#089981"/>
<rect x="1279" y="328" width="5" height="25" fill="#089981"/>
<rect x="1288" y="321" width="1" height="12" fill="#089981"/>
<rect x="1286" y="327" width="5" height="1" fill="#089981"/>
<rect x="1296" y="321" width="1" height="26" fill="#f23645"/>
<rect x="1294" y="327" width="5" height="16" fill="#f23645"/>
<rect x="1303" y="330" width="1" height="15" fill="#089981"/>
<rect x="1301" y="335" width="5" height="8" fill="#089981"/>
<rect x="1310" y="334" width="1" height="22" fill="#f23645"/>
<rect x="1308" y="335" width="5" height="11" fill="#f23645"/>
<rect x="1317" y="304" width="1" height="43" fill="#089981"/>
<rect x="1315" y="307" width="5" height="39" fill="#089981"/>
<rect x="1324" y="298" width="1" height="30" fill="#f23645"/>
<rect x="1322" y="307" width="5" height="20" fill="#f23645"/>
<rect x="1332" y="320" width="1" height="12" fill="#089981"/>
<rect x="1330" y="324" width="5" height="2" fill="#089981"/>
<rect x="1339" y="322" width="1" height="6" fill="#f23645"/>
<rect x="1337" y="324" width="5" height="3" fill="#f23645"/>
<rect x="1346" y="308" width="1" height="20" fill="#089981"/>
<rect x="1344" y="308" width="5" height="19" fill="#089981"/>
<rect x="1353" y="282" width="1" height="30" fill="#089981"/>
<rect x="1351" y="296" width="5" height="14" fill="#089981"/>
<rect x="1361" y="289" width="1" height="16" fill="#f23645"/>
<rect x="1359" y="296" width="5" height="1" fill="#f23645"/>
<rect x="1368" y="288" width="1" height="19" fill="#f23645"/>
<rect x="1366" y="296" width="5" height="3" fill="#f23645"/>
<rect x="1375" y="291" width="1" height="17" fill="#089981"/>
<rect x="1373" y="297" width="5" height="1" fill="#089981"/>
<rect x="1382" y="295" width="1" height="27" fill="#f23645"/>
<rect x="1380" y="297" width="5" height="20" fill="#f23645"/>
<rect x="1389" y="314" width="1" height="26" fill="#f23645"/>
<rect x="1387" y="316" width="5" height="16" fill="#f23645"/>
<rect x="1397" y="322" width="1" height="17" fill="#f23645"/>
<rect x="1395" y="332" width="5" height="3" fill="#f23645"/>
<rect x="1404" y="322" width="1" height="22" fill="#089981"/>
<rect x="1402" y="333" width="5" height="1" fill="#089981"/>
<rect x="1411" y="308" width="1" height="27" fill="#089981"/>
<rect x="1409" y="310" width="5" height="24" fill="#089981"/>
<rect x="1418" y="286" width="1" height="51" fill="#f23645"/>
<rect x="1416" y="310" width="5" height="26" fill="#f23645"/>
<rect x="1426" y="322" width="1" height="25" fill="#089981"/>
<rect x="1424" y="332" width="5" height="4" fill="#089981"/>
<rect x="1433" y="323" width="1" height="23" fill="#089981"/>
<rect x="1431" y="332" width="5" height="1" fill="#089981"/>
<rect x="1440" y="328" width="1" height="12" fill="#f23645"/>
<rect x="1438" y="331" width="5" height="1" fill="#f23645"/>
<rect x="1447" y="331" width="1" height="51" fill="#f23645"/>
<rect x="1445" y="332" width="5" height="38" fill="#f23645"/>
<rect x="1454" y="346" width="1" height="61" fill="#089981"/>
<rect x="1452" y="366" width="5" height="3" fill="#089981"/>
<rect x="1462" y="352" width="1" height="38" fill="#f23645"/>
<rect x="1460" y="366" width="5" height="24" fill="#f23645"/>
<rect x="1469" y="333" width="1" height="69" fill="#089981"/>
<rect x="1467" y="345" width="5" height="45" fill="#089981"/>
<rect x="1476" y="338" width="1" height="36" fill="#f23645"/>
<rect x="1474" y="345" width="5" height="23" fill="#f23645"/>
<rect x="1483" y="338" width="1" height="34" fill="#089981"/>
<rect x="1481" y="344" width="5" height="24" fill="#089981"/>
<rect x="1491" y="328" width="1" height="21" fill="#089981"/>
<rect x="1489" y="330" width="5" height="14" fill="#089981"/>
<rect x="1498" y="324" width="1" height="24" fill="#f23645"/>
<rect x="1496" y="330" width="5" height="14" fill="#f23645"/>
<rect x="1505" y="327" width="1" height="17" fill="#089981"/>
<rect x="1503" y="336" width="5" height="8" fill="#089981"/>
<rect x="1512" y="336" width="1" height="4" fill="#f23645"/>
<rect x="1510" y="336" width="5" height="4" fill="#f23645"/>
<polyline points="629.6,100.8 862.5,169.5" fill="none" stroke="#22368c" stroke-width="2.2" stroke-linejoin="round" stroke-linecap="round" />
<polyline points="601,279 862.5,227.5" fill="none" stroke="#22368c" stroke-width="2.2" stroke-linejoin="round" stroke-linecap="round" />
</g>
</svg>

<svg class="abs" style="left:0;top:0" width="1521" height="680" viewBox="0 0 1521 680" font-family="Liberation Sans, Noto Sans CJK KR, sans-serif">
<!-- symbol logos -->
<g transform="translate(14 12)">
  <circle cx="15.4" cy="8.6" r="6" fill="#e8e8ee"/>
  <path d="M12.6 6.6a3 3 0 0 1 5.6 0z" fill="#cd2e3a"/>
  <path d="M12.6 9.4a3 3 0 0 0 5.6 0 3 3 0 0 0 -2.8 -2 3 3 0 0 1 -2.8 2z" fill="#3a5fa8" opacity=".8"/>
  <circle cx="9" cy="15" r="6.6" fill="#0f0f0f"/>
  <circle cx="9" cy="15" r="5.8" fill="#f7931a"/>
  <text x="9" y="18" text-anchor="middle" font-weight="bold" font-size="8" fill="#fff5e0">₿</text>
</g>
<circle cx="278" cy="24" r="8.2" fill="#089981" opacity=".22"/><circle cx="278" cy="24" r="4.2" fill="#0aa58a"/>
<g transform="translate(102 73.1)"><g fill="none" stroke="#c0c2c8" stroke-width="1.25"><path d="M-7.8 0C-5.4 -3.2 -3 -4.5 0 -4.5S5.4 -3.2 7.8 0C5.4 3.2 3 4.5 0 4.5S-5.4 3.2 -7.8 0z"/><circle cx="0" cy="0" r="1.9"/><path d="M-5.4 5.6L5.8 -5.8"/></g></g>
<g transform="translate(138 97.1)"><g fill="none" stroke="#c0c2c8" stroke-width="1.25"><path d="M-7.8 0C-5.4 -3.2 -3 -4.5 0 -4.5S5.4 -3.2 7.8 0C5.4 3.2 3 4.5 0 4.5S-5.4 3.2 -7.8 0z"/><circle cx="0" cy="0" r="1.9"/><path d="M-5.4 5.6L5.8 -5.8"/></g></g>
<rect x="14.5" y="112.5" width="28" height="20" rx="3" fill="#0f0f0f" stroke="#4a4a4a"/>
<path d="M24.5 125L28.6 121L32.7 125" fill="none" stroke="#d1d4dc" stroke-width="1.3"/>
<!-- price axis -->
<rect x="1512" y="7" width="9" height="673" fill="#0f0f0f"/>
<rect x="1513" y="67" width="8" height="31" fill="#089981"/>
<rect x="1513.5" y="331.5" width="12" height="16" fill="#0f0f0f" stroke="#e0475a"/>
<rect x="1513.5" y="650.5" width="12" height="16" fill="#0f0f0f" stroke="#c58fd0"/>
<rect x="1513" y="651" width="1" height="11" fill="#f7a6a6"/>
<rect x="1513.5" y="634.5" width="12" height="15" fill="#0f0f0f" stroke="#4a6cf0"/>
<rect x="1512" y="662" width="9" height="18" fill="#0f0f0f"/>
<!-- toolbar -->
<rect x="1273" y="16" width="260" height="38" rx="7" fill="#1e1e1e"/>
<g transform="translate(1273 16)">
 <g fill="#4e4e4e"><rect x="8" y="13" width="2" height="2"/><rect x="14" y="13" width="2" height="2"/><rect x="8" y="18" width="2" height="2"/><rect x="14" y="18" width="2" height="2"/><rect x="8" y="23" width="2" height="2"/><rect x="14" y="23" width="2" height="2"/></g>
 <g fill="none" stroke="#d8d8d8" stroke-width="1.15" transform="translate(0.7 0)">
  <path d="M35.6 25.9L49.2 12.4"/><circle cx="33.8" cy="27.6" r="2.15"/><circle cx="51" cy="10.6" r="2.15"/>
  <path d="M70.5 19.6H78M83 19.6H91.5"/><circle cx="80.5" cy="19.6" r="2.15"/>
  <circle cx="112.7" cy="10.4" r="2.1"/><circle cx="125" cy="11.3" r="2.1"/><circle cx="117.2" cy="17.5" r="2.1"/><circle cx="109.7" cy="27.8" r="2.1"/><circle cx="127.8" cy="24.7" r="2.1"/>
  <path d="M112.4 12.6L110 25.6M113.6 12.4L116.2 15.5M123.2 12.6L119 16.2M125.5 13.5L127.3 22.5M119.2 18.6L125.8 23.6M115.8 19.3L111 26"/>
  <circle cx="145.8" cy="24.7" r="2.1"/><circle cx="152.8" cy="17.6" r="2.1"/><circle cx="159.8" cy="24.7" r="2.1"/><circle cx="166.8" cy="17.6" r="2.1"/>
  <path d="M147.4 23.1L151.2 19.2M154.4 19.2L158.2 23.1M161.4 23.1L165.2 19.2"/>
  <circle cx="183.8" cy="24.7" r="2.1"/><circle cx="190.8" cy="17.6" r="2.1"/><circle cx="197.8" cy="24.7" r="2.1"/><circle cx="204.8" cy="17.6" r="2.1"/>
  <path d="M185.4 23.1L189.2 19.2M192.4 19.2L196.2 23.1M199.4 23.1L203.2 19.2"/>
  <circle cx="222.8" cy="11.5" r="2.1"/><circle cx="222.8" cy="21.5" r="2.1"/><circle cx="222.8" cy="27.5" r="2.1"/><circle cx="241.2" cy="21.5" r="2.1"/>
  <path d="M225 11.5H243M225 21.5H239M225 27.5H243"/>
  <path d="M228.3 18.9L241 13.8" stroke-dasharray="1 3.2" stroke-width="1"/>
 </g>
 <g font-weight="bold" font-size="8.6" fill="#dcdcdc" stroke="#dcdcdc" stroke-width="0.3" text-anchor="middle">
  <text x="118.9" y="28.7">C</text><text x="153.6" y="11.8">1</text><text x="168.4" y="11.8">5</text><text x="191.8" y="11.8">A</text><text x="205.8" y="11.8">C</text>
 </g>
</g>
<text x="39.7" y="29.9" font-size="15" fill="#d1d4dc" font-weight="bold" textLength="56.9" lengthAdjust="spacingAndGlyphs" >비트코인</text>
<text x="104.3" y="29.9" font-size="14" fill="#d1d4dc" font-weight="bold" textLength="5.1" lengthAdjust="spacingAndGlyphs" >/</text>
<text x="117.1" y="29.9" font-size="15" fill="#d1d4dc" font-weight="bold" textLength="27.3" lengthAdjust="spacingAndGlyphs" >한국</text>
<text x="151.3" y="29.9" font-size="15" fill="#d1d4dc" font-weight="bold" textLength="12.8" lengthAdjust="spacingAndGlyphs" >원</text>
<text x="167.6" y="29.9" font-size="14" fill="#d1d4dc" font-weight="bold" textLength="3.4" lengthAdjust="spacingAndGlyphs" >·</text>
<text x="177.8" y="29.9" font-size="15" fill="#d1d4dc" font-weight="bold" textLength="21.3" lengthAdjust="spacingAndGlyphs" >1날</text>
<text x="203.3" y="29.9" font-size="14" fill="#d1d4dc" font-weight="bold" textLength="3.4" lengthAdjust="spacingAndGlyphs" >·</text>
<text x="212.5" y="29.9" font-size="14" fill="#d1d4dc" font-weight="bold" textLength="40.1" lengthAdjust="spacingAndGlyphs" >UPBIT</text>
<text x="303.7" y="29.1" font-size="13" fill="#d1d4dc" font-weight="bold" textLength="11.1" lengthAdjust="spacingAndGlyphs" >시</text>
<text x="316.5" y="29.1" font-size="13" fill="#089981" font-weight="normal" textLength="70.5" lengthAdjust="spacingAndGlyphs" >162,232,000</text>
<text x="393" y="29.1" font-size="13" fill="#d1d4dc" font-weight="bold" textLength="12.4" lengthAdjust="spacingAndGlyphs" >고</text>
<text x="406.8" y="29.1" font-size="13" fill="#089981" font-weight="normal" textLength="69.6" lengthAdjust="spacingAndGlyphs" >164,446,000</text>
<text x="483.2" y="29.1" font-size="13" fill="#d1d4dc" font-weight="bold" textLength="11.1" lengthAdjust="spacingAndGlyphs" >저</text>
<text x="496" y="29.1" font-size="13" fill="#089981" font-weight="normal" textLength="70" lengthAdjust="spacingAndGlyphs" >162,108,000</text>
<text x="573.2" y="29.1" font-size="13" fill="#d1d4dc" font-weight="bold" textLength="11.2" lengthAdjust="spacingAndGlyphs" >종</text>
<text x="586" y="29.1" font-size="13" fill="#089981" font-weight="normal" textLength="70.5" lengthAdjust="spacingAndGlyphs" >162,900,000</text>
<text x="663.8" y="29.1" font-size="13" fill="#089981" font-weight="normal" textLength="50.8" lengthAdjust="spacingAndGlyphs" >+668,000</text>
<text x="720.3" y="29.1" font-size="13" fill="#089981" font-weight="normal" textLength="47.3" lengthAdjust="spacingAndGlyphs" >(+0.41%)</text>
<text x="17.1" y="55" font-size="12.5" fill="#d1d4dc" font-weight="bold" textLength="22.6" lengthAdjust="spacingAndGlyphs" >볼륨</text>
<text x="46.5" y="55" font-size="12.5" fill="#d1d4dc" font-weight="bold" textLength="3.0" lengthAdjust="spacingAndGlyphs" >·</text>
<text x="53.8" y="55" font-size="12.5" fill="#d1d4dc" font-weight="bold" textLength="22.3" lengthAdjust="spacingAndGlyphs" >BTC</text>
<text x="79.5" y="55" font-size="12.5" fill="#9598a1" font-weight="normal" textLength="12.8" lengthAdjust="spacingAndGlyphs" >20</text>
<text x="102" y="55" font-size="12.5" fill="#089981" font-weight="normal" textLength="34" lengthAdjust="spacingAndGlyphs" >1.05 K</text>
<text x="142.7" y="55" font-size="12.5" fill="#2f62e0" font-weight="normal" textLength="33.3" lengthAdjust="spacingAndGlyphs" >1.49 K</text>
<text x="17.1" y="78" font-size="12" fill="#6c6e73" font-weight="normal" textLength="66.1" lengthAdjust="spacingAndGlyphs" >SMA 9 close</text>
<text x="17.4" y="102" font-size="12" fill="#6c6e73" font-weight="normal" textLength="102.3" lengthAdjust="spacingAndGlyphs" >BB 20 SMA close 2</text>
<text x="85.7" y="679.9" font-size="13.4" fill="#c0c2c9" font-weight="normal" textLength="11.7" lengthAdjust="spacingAndGlyphs" stroke="#c0c2c9" stroke-width="0.35">10</text>
<text x="98.4" y="680.2" font-size="11.6" fill="#c0c2c9" font-weight="normal" textLength="9.0" lengthAdjust="spacingAndGlyphs" stroke="#c0c2c9" stroke-width="0.35">월</text>
<text x="310.1" y="679.9" font-size="13.4" fill="#c0c2c9" font-weight="normal" textLength="11.7" lengthAdjust="spacingAndGlyphs" stroke="#c0c2c9" stroke-width="0.35">11</text>
<text x="322.8" y="680.2" font-size="11.6" fill="#c0c2c9" font-weight="normal" textLength="9.0" lengthAdjust="spacingAndGlyphs" stroke="#c0c2c9" stroke-width="0.35">월</text>
<text x="526.1" y="679.9" font-size="13.4" fill="#c0c2c9" font-weight="normal" textLength="11.8" lengthAdjust="spacingAndGlyphs" stroke="#c0c2c9" stroke-width="0.35">12</text>
<text x="538.9" y="680.2" font-size="11.6" fill="#c0c2c9" font-weight="normal" textLength="9.0" lengthAdjust="spacingAndGlyphs" stroke="#c0c2c9" stroke-width="0.35">월</text>
<text x="747.8" y="679.9" font-size="13.4" fill="#dcdde2" font-weight="bold" textLength="27.2" lengthAdjust="spacingAndGlyphs" stroke="#dcdde2" stroke-width="0.35">2025</text>
<text x="977.3" y="679.9" font-size="13.4" fill="#c0c2c9" font-weight="normal" textLength="5.8" lengthAdjust="spacingAndGlyphs" stroke="#c0c2c9" stroke-width="0.35">2</text>
<text x="984.1" y="680.2" font-size="11.6" fill="#c0c2c9" font-weight="normal" textLength="9.0" lengthAdjust="spacingAndGlyphs" stroke="#c0c2c9" stroke-width="0.35">월</text>
<text x="1179.3" y="679.9" font-size="13.4" fill="#c0c2c9" font-weight="normal" textLength="5.8" lengthAdjust="spacingAndGlyphs" stroke="#c0c2c9" stroke-width="0.35">3</text>
<text x="1186.1" y="680.2" font-size="11.6" fill="#c0c2c9" font-weight="normal" textLength="9.0" lengthAdjust="spacingAndGlyphs" stroke="#c0c2c9" stroke-width="0.35">월</text>
<text x="1403.3" y="679.9" font-size="13.4" fill="#c0c2c9" font-weight="normal" textLength="5.8" lengthAdjust="spacingAndGlyphs" stroke="#c0c2c9" stroke-width="0.35">4</text>
<text x="1410.1" y="680.2" font-size="11.6" fill="#c0c2c9" font-weight="normal" textLength="9.0" lengthAdjust="spacingAndGlyphs" stroke="#c0c2c9" stroke-width="0.35">월</text>
<!-- logo -->
<g stroke="#0f0f0f" stroke-width="4.5" stroke-linejoin="round" fill="#0f0f0f">
  <path d="M20 633H32V648.2H26V639H20z"/><circle cx="37" cy="636" r="2.7"/><path d="M42.6 633H49.7L44.3 648.2H37.2z"/>
  <text x="57.3" y="648.2" font-weight="bold" font-size="21.2" textLength="120.7" lengthAdjust="spacingAndGlyphs">TradingView</text>
</g>
<g fill="#e9e9e9">
  <path d="M20 633H32V648.2H26V639H20z"/><circle cx="37" cy="636" r="2.7"/><path d="M42.6 633H49.7L44.3 648.2H37.2z"/>
  <text x="57.3" y="648.2" font-weight="bold" font-size="21.2" textLength="120.7" lengthAdjust="spacingAndGlyphs">TradingView</text>
</g>
</svg>

</body></html>
